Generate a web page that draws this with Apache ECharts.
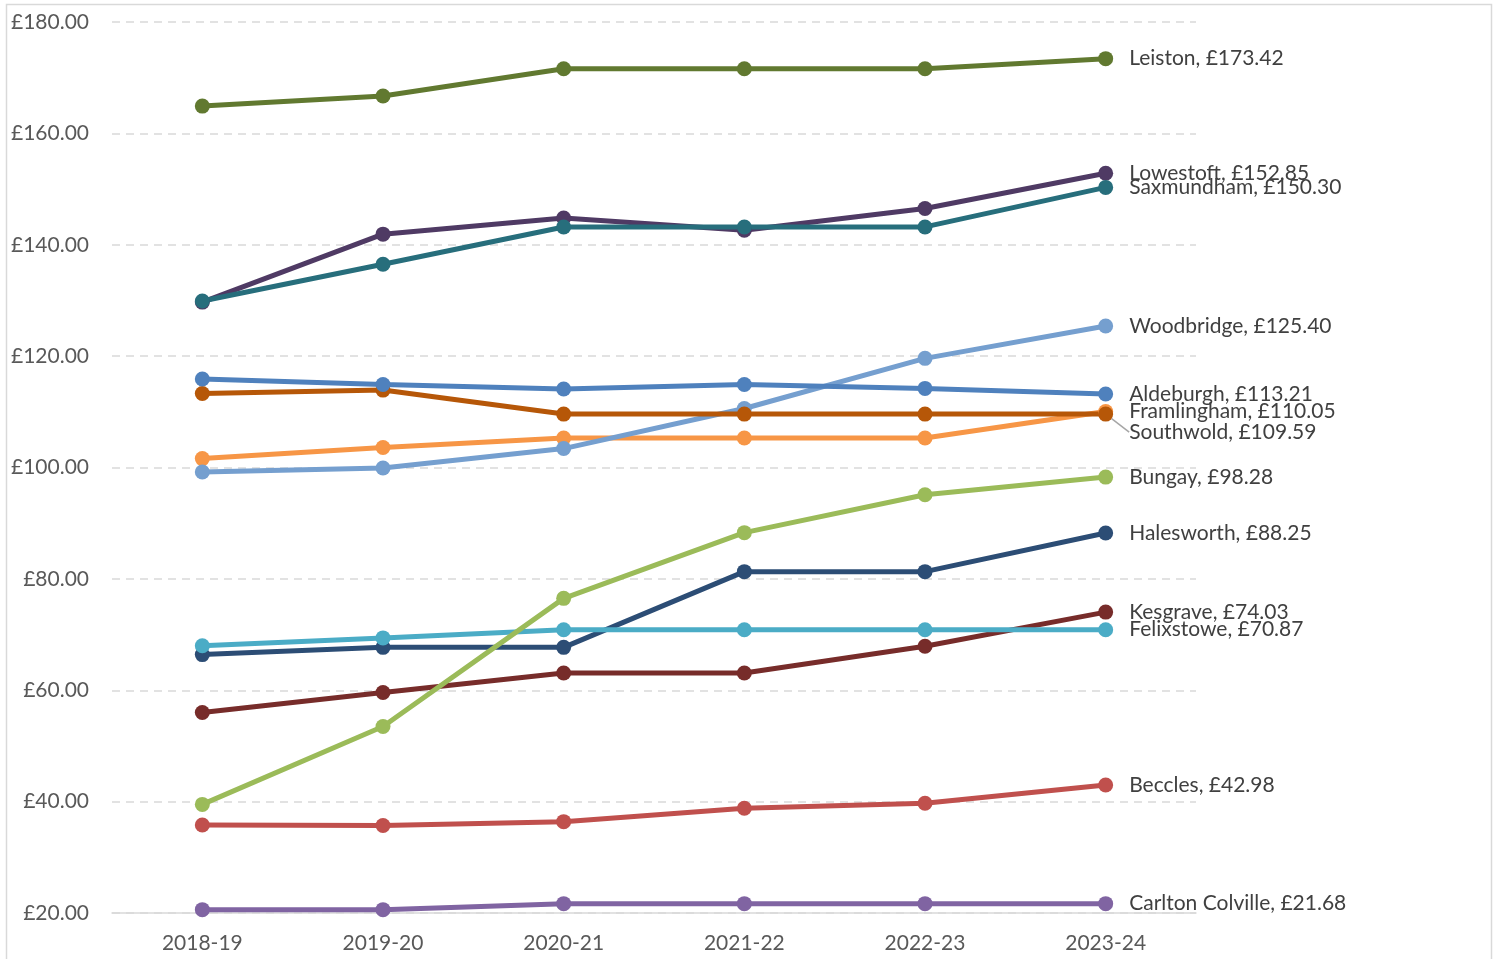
<!DOCTYPE html>
<html>
<head>
    <meta charset="utf-8"/>
    <style>
        html, body {
            height: 100%;
            margin: 0;
            padding: 0;
            background: #ffffff;
        }

        .container {
            width: 1494px;
            height: 959px;
        }
    </style>
</head>
<body>
<div id="main" class="container"></div>
<script src="https://cdn.jsdelivr.net/npm/echarts@6/dist/echarts.min.js"></script>
<script type="text/javascript">
    // years on the x axis
    var years = ['2018-19', '2019-20', '2020-21', '2021-22', '2022-23', '2023-24'];

    // values per town (pounds)
    var leiston = [164.9, 166.7, 171.6, 171.6, 171.6, 173.42];
    var lowestoft = [129.7, 141.9, 144.8, 142.6, 146.5, 152.85];
    var saxmundham = [129.9, 136.5, 143.2, 143.2, 143.2, 150.30];
    var woodbridge = [99.2, 99.9, 103.4, 110.6, 119.6, 125.40];
    var aldeburgh = [115.9, 114.9, 114.1, 114.9, 114.2, 113.21];
    var southwold = [113.3, 113.9, 109.59, 109.59, 109.59, 109.59];
    var framlingham = [101.6, 103.6, 105.3, 105.3, 105.3, 110.05];
    var bungay = [39.5, 53.5, 76.5, 88.3, 95.1, 98.28];
    var halesworth = [66.4, 67.7, 67.7, 81.3, 81.3, 88.25];
    var felixstowe = [68.0, 69.4, 70.87, 70.87, 70.87, 70.87];
    var kesgrave = [56.0, 59.6, 63.1, 63.1, 67.9, 74.03];
    var beccles = [35.8, 35.7, 36.4, 38.8, 39.7, 42.98];
    var carltonColville = [20.6, 20.6, 21.68, 21.68, 21.68, 21.68];

    // y axis ticks
    var yMin = 20, yMax = 180, yStep = 20;

    var towns = [
        {name: 'Carlton Colville', data: carltonColville, color: '#8064a2'},
        {name: 'Beccles', data: beccles, color: '#c0504d'},
        {name: 'Kesgrave', data: kesgrave, color: '#772c2a'},
        {name: 'Halesworth', data: halesworth, color: '#2c4d75'},
        {name: 'Felixstowe', data: felixstowe, color: '#4bacc6'},
        {name: 'Bungay', data: bungay, color: '#9bbb59'},
        {name: 'Framlingham', data: framlingham, color: '#f79646'},
        {name: 'Woodbridge', data: woodbridge, color: '#759fcf'},
        {name: 'Southwold', data: southwold, color: '#b65708', dy: 18},
        {name: 'Aldeburgh', data: aldeburgh, color: '#4f81bd'},
        {name: 'Lowestoft', data: lowestoft, color: '#4f3a64'},
        {name: 'Saxmundham', data: saxmundham, color: '#276e7c'},
        {name: 'Leiston', data: leiston, color: '#617930'}
    ];

    var font = 'Lato, "Noto Sans", sans-serif';
    var myChart = echarts.init(document.getElementById('main'));

    var series = [];
    for (var i = 0; i < towns.length; i++) {
        var t = towns[i];
        var pts = [];
        for (var j = 0; j < t.data.length; j++) {
            if (j === t.data.length - 1) {
                pts.push({
                    value: t.data[j],
                    label: {
                        show: true,
                        position: 'right',
                        distance: 16,
                        color: '#404040',
                        fontSize: 21,
                        fontFamily: font,
                        formatter: t.name + ', £' + t.data[j].toFixed(2)
                    }
                });
            } else {
                pts.push(t.data[j]);
            }
        }
        var s = {
            name: t.name,
            type: 'line',
            symbol: 'circle',
            symbolSize: 15,
            data: pts,
            lineStyle: {width: 5, color: t.color},
            itemStyle: {color: t.color},
            emphasis: {disabled: true},
            animation: false
        };
        if (t.dy) {
            s.labelLayout = {dy: t.dy};
            s.labelLine = {show: true, lineStyle: {color: '#a6a6a6', width: 1.5}};
        }
        series.push(s);
    }

    var option = {
        backgroundColor: '#ffffff',
        animation: false,
        graphic: [{
            type: 'rect',
            shape: {x: 6.5, y: 4.5, width: 1485, height: 970},
            style: {fill: 'none', stroke: '#d9d9d9', lineWidth: 1.5},
            silent: true
        }],
        grid: {
            left: 112,
            right: 298,
            top: 22,
            bottom: 46
        },
        xAxis: {
            type: 'category',
            data: years,
            boundaryGap: true,
            axisLine: {lineStyle: {color: '#d9d9d9', width: 1.5}},
            axisTick: {show: false},
            axisLabel: {
                color: '#595959',
                fontSize: 21,
                fontFamily: font,
                margin: 20
            }
        },
        yAxis: {
            type: 'value',
            min: yMin,
            max: yMax,
            interval: yStep,
            axisLine: {show: false},
            axisTick: {show: false},
            splitLine: {
                lineStyle: {color: '#d9d9d9', type: [8, 6], width: 1.5}
            },
            axisLabel: {
                color: '#595959',
                fontSize: 21,
                fontFamily: font,
                margin: 23,
                formatter: function (v) {
                    return '£' + v.toFixed(2);
                }
            }
        },
        series: series
    };

    myChart.setOption(option);
</script>
</body>
</html>
